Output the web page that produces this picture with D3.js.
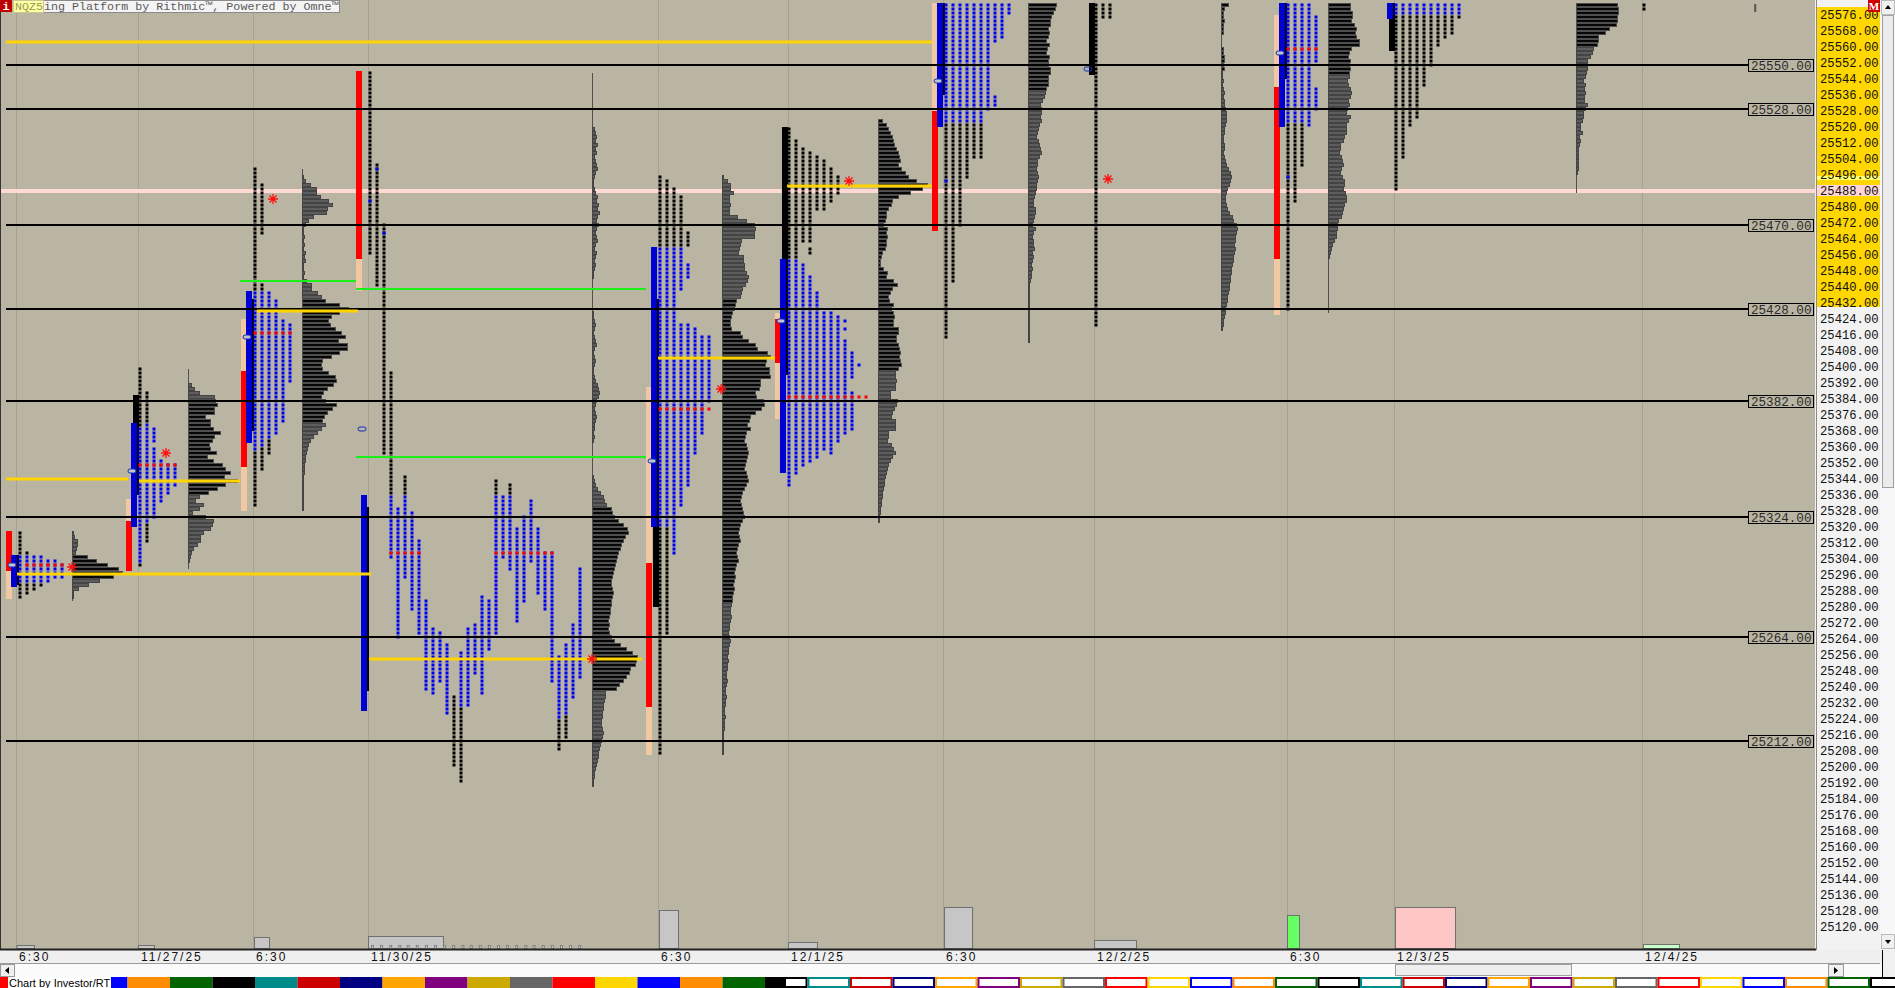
<!DOCTYPE html>
<html lang="en">
<head>
<meta charset="UTF-8">
<title>NQZ5 market profile</title>
<script src="https://cdn.jsdelivr.net/npm/d3@7"></script>
<style>
  body { margin: 0; background: #f0f0f0; }
  svg { display: block; }
</style>
</head>
<body>
<div id="chart"></div>
<script>
// ---------- data ----------
// horizontal reference levels (black lines with boxed labels)
const refLevels = [25550, 25528, 25470, 25428, 25382, 25324, 25264, 25212];
const pinkLevel = 25488;
const priceTicks = d3.range(25576, 25119, -8);

// time axis, x in 30-minute periods
const timeTicks = [2.29, 19.71, 36.14, 52.57, 94, 112.57, 134.71, 156.29, 183.86, 199.14, 234.57];
const timeLabels = ['6:30', '11/27/25', '6:30', '11/30/25', '6:30', '12/1/25', '6:30', '12/2/25', '6:30', '12/3/25', '12/4/25'];

// left edge of each session block (periods)
const sessStart = [0.86, 18, 34.43, 50.86, 92.29, 110.71, 133.14, 154.57, 182, 197.43, 232.86];

// range bars [session, high, low]
const peachBars = [[0, 25316, 25284], [1, 25332, 25298], [2, 25422, 25328], [3, 25546, 25438], [4, 25388, 25206], [5, 25425, 25374], [6, 25580, 25468], [8, 25574, 25426]];
const redBars = [[0, 25316, 25298], [1, 25321, 25298], [2, 25396, 25350], [3, 25546, 25454], [4, 25300, 25230], [5, 25422, 25402], [6, 25526, 25468], [8, 25538, 25454]];
const blueBars = [[0, 25304, 25290], [1, 25370, 25320], [2, 25436, 25362], [3, 25334, 25228], [4, 25458, 25320], [5, 25452, 25347], [6, 25580, 25520], [8, 25580, 25520], [9, 25580, 25574]];
const blackBars = [[0, 25304, 25291], [1, 25384, 25336], [2, 25432, 25368], [3, 25328, 25238], [4, 25432, 25280], [5, 25518, 25396], [6, 25580, 25536], [7, 25580, 25546], [8, 25580, 25544], [9, 25580, 25558]];
// open marks [session, price, filled]
const openMarks = [[0, 25300, 1], [1, 25347, 1], [2, 25414, 1], [3, 25368, 0], [4, 25352, 1], [5, 25422, 1], [6, 25542, 1], [7, 25548, 0], [8, 25556, 1]];

// TPO columns [column, high, low, kind]  b = day, k = overnight
const tpo1 = [[0, 25316, 25306, 'k'], [0, 25304, 25292, 'b'], [0, 25290, 25284, 'k'], [1, 25306, 25306, 'k'], [1, 25304, 25292, 'b'], [1, 25290, 25286, 'k'],
  [2, 25304, 25292, 'b'], [2, 25290, 25288, 'k'], [3, 25304, 25292, 'b'], [3, 25290, 25290, 'k'], [4, 25302, 25292, 'b'], [5, 25302, 25294, 'b'], [6, 25300, 25294, 'b']];
const tpo2 = [[0, 25398, 25370, 'k'], [0, 25368, 25302, 'b'], [0, 25300, 25300, 'k'], [1, 25386, 25372, 'k'], [1, 25370, 25322, 'b'], [1, 25320, 25312, 'k'],
  [2, 25368, 25362, 'b'], [2, 25358, 25324, 'b'], [3, 25352, 25332, 'b'], [4, 25350, 25336, 'b'], [5, 25350, 25340, 'b']];
const tpo3 = [[0, 25498, 25438, 'k'], [0, 25436, 25358, 'b'], [0, 25356, 25330, 'k'], [1, 25490, 25466, 'k'], [1, 25440, 25438, 'k'], [1, 25436, 25360, 'b'], [1, 25358, 25348, 'k'],
  [2, 25436, 25364, 'b'], [2, 25362, 25356, 'k'], [3, 25432, 25366, 'b'], [4, 25422, 25372, 'b'], [5, 25420, 25392, 'b']];
const tpo4 = [[0, 25546, 25456, 'k'], [0, 25482, 25482, 'b'], [1, 25500, 25440, 'k'], [1, 25498, 25498, 'b'], [2, 25470, 25356, 'k'], [2, 25466, 25466, 'b'],
  [3, 25396, 25336, 'k'], [3, 25334, 25304, 'b'], [4, 25328, 25264, 'b'], [5, 25344, 25336, 'k'], [5, 25334, 25294, 'b'], [6, 25326, 25278, 'b'],
  [7, 25312, 25266, 'b'], [8, 25282, 25238, 'b'], [9, 25268, 25236, 'b'], [10, 25266, 25242, 'b'], [11, 25260, 25226, 'b'], [12, 25234, 25200, 'k'],
  [13, 25256, 25230, 'b'], [13, 25228, 25192, 'k'], [14, 25268, 25230, 'b'], [15, 25270, 25246, 'b'], [16, 25284, 25236, 'b'], [17, 25282, 25258, 'b'],
  [18, 25342, 25336, 'k'], [18, 25334, 25266, 'b'], [19, 25334, 25304, 'b'], [20, 25340, 25336, 'k'], [20, 25334, 25298, 'b'], [21, 25318, 25272, 'b'],
  [22, 25324, 25282, 'b'], [23, 25332, 25302, 'b'], [24, 25318, 25286, 'b'], [25, 25306, 25278, 'b'], [26, 25306, 25242, 'b'],
  [27, 25254, 25224, 'b'], [27, 25222, 25208, 'k'], [28, 25260, 25226, 'b'], [28, 25224, 25214, 'k'], [29, 25270, 25234, 'b'], [30, 25298, 25244, 'b']];
const tpo5 = [[0, 25494, 25460, 'k'], [0, 25458, 25320, 'b'], [0, 25318, 25206, 'k'], [1, 25492, 25460, 'k'], [1, 25458, 25320, 'b'], [1, 25318, 25266, 'k'],
  [2, 25488, 25460, 'k'], [2, 25458, 25306, 'b'], [3, 25484, 25460, 'k'], [3, 25458, 25438, 'b'], [3, 25420, 25330, 'b'],
  [4, 25466, 25460, 'k'], [4, 25450, 25444, 'b'], [4, 25420, 25340, 'b'], [5, 25418, 25356, 'b'], [6, 25414, 25366, 'b'], [7, 25414, 25382, 'b']];
const tpo6 = [[0, 25518, 25454, 'k'], [0, 25452, 25340, 'b'], [1, 25512, 25454, 'k'], [1, 25452, 25346, 'b'], [2, 25508, 25462, 'k'], [2, 25450, 25350, 'b'],
  [3, 25506, 25462, 'k'], [3, 25458, 25456, 'k'], [3, 25444, 25352, 'b'], [4, 25504, 25478, 'k'], [4, 25436, 25354, 'b'], [5, 25502, 25478, 'k'], [5, 25426, 25358, 'b'],
  [6, 25498, 25482, 'k'], [6, 25426, 25356, 'b'], [7, 25494, 25486, 'k'], [7, 25424, 25362, 'b'], [8, 25422, 25422, 'b'], [8, 25418, 25418, 'b'], [8, 25412, 25366, 'b'],
  [9, 25406, 25394, 'b'], [9, 25386, 25368, 'b'], [10, 25400, 25400, 'b']];
const tpo7 = [[0, 25580, 25522, 'b'], [0, 25520, 25414, 'k'], [0, 25492, 25492, 'b'], [1, 25580, 25522, 'b'], [1, 25520, 25442, 'k'], [2, 25580, 25522, 'b'], [2, 25520, 25470, 'k'],
  [3, 25580, 25522, 'b'], [3, 25520, 25494, 'k'], [4, 25580, 25522, 'b'], [4, 25520, 25504, 'k'], [5, 25580, 25522, 'b'], [5, 25520, 25504, 'k'],
  [6, 25580, 25528, 'b'], [7, 25580, 25562, 'b'], [7, 25534, 25530, 'b'], [8, 25580, 25564, 'b'], [9, 25580, 25576, 'b']];
const tpo8 = [[0, 25580, 25420, 'k'], [1, 25580, 25574, 'k'], [2, 25580, 25574, 'k']];
const tpo9 = [[0, 25580, 25522, 'b'], [0, 25520, 25428, 'k'], [0, 25494, 25494, 'b'], [1, 25580, 25522, 'b'], [1, 25520, 25482, 'k'], [2, 25580, 25522, 'b'], [2, 25520, 25500, 'k'],
  [3, 25580, 25520, 'b'], [4, 25574, 25552, 'b'], [4, 25538, 25528, 'b']];
const tpo10 = [[0, 25580, 25576, 'b'], [0, 25574, 25488, 'k'], [1, 25580, 25576, 'b'], [1, 25574, 25504, 'k'], [2, 25580, 25576, 'b'], [2, 25574, 25520, 'k'],
  [3, 25580, 25576, 'b'], [3, 25574, 25524, 'k'], [4, 25580, 25576, 'b'], [4, 25574, 25540, 'k'], [5, 25580, 25576, 'b'], [5, 25574, 25550, 'k'],
  [6, 25580, 25576, 'b'], [6, 25574, 25560, 'k'], [7, 25580, 25576, 'b'], [7, 25574, 25564, 'k'], [8, 25580, 25576, 'b'], [8, 25574, 25566, 'k'],
  [9, 25580, 25576, 'b'], [9, 25574, 25574, 'k']];
const tpo11 = [[0, 25580, 25578, 'k']];
const tpoSessions = [0, 1, 2, 3, 4, 5, 6, 7, 8, 9, 10];

// TPO point-of-control rows [session, price, fromCol, toCol]
const redRows = [[0, 25300, 1, 6], [1, 25350, 0, 5], [2, 25416, 0, 5], [3, 25306, 3, 7], [3, 25306, 18, 26], [4, 25378, 0, 7], [5, 25384, 0, 11], [8, 25558, 0, 4]];

// volume profiles: axis position, top price, value area, extent
const vpAxis = [10.29, 26.86, 43.14, 84.57, 103.14, 125.43, 146.86, 174.43, 189.71, 225.14];
const vpTop = [25316, 25390, 25494, 25518, 25494, 25522, 25580, 25580, 25580, 25580];
const vpVA = [[25304, 25294], [25382, 25336], [25432, 25372], [25328, 25238], [25432, 25282], [25522, 25398], [25580, 25538], [25580, 25548], [25580, 25546], [25580, 25560]];
const vpSpan = [[25316, 25282], [25398, 25298], [25498, 25328], [25546, 25190], [25494, 25206], [25522, 25322], [25580, 25412], [25580, 25418], [25580, 25426], [25580, 25486]];
// volume per 2-point row, from the top price down
const vp1 = [1, 2, 5, 5, 4, 3, 15, 24, 35, 46, 50, 41, 27, 16, 6, 1, 1];
const vp2 = [3, 6, 11, 26, 27, 29, 26, 26, 17, 22, 22, 25, 32, 26, 24, 21, 22, 28, 19, 25, 34, 37, 42, 36, 49, 37, 29, 20, 11, 7, 15, 11, 4, 17, 25, 24, 22, 15, 12, 12, 9, 5, 3, 2, 1];
const vp3 = [1, 3, 8, 14, 14, 18, 26, 30, 25, 24, 11, 6, 3, 1, 1, 2,
  1, 2, 1, 3, 2, 3, 1, 1, 2, 1,
  4, 9, 9, 15, 19,
  23, 37, 46, 37, 29, 26, 28, 33, 39, 43, 36, 45, 45, 37, 29, 20, 19, 20, 26, 33, 34, 31, 25, 21, 19, 23, 34, 30, 25, 22, 20,
  23, 19, 15, 11, 8, 6, 5, 4, 3, 3, 2, 2, 2, 1, 1, 1, 1, 1, 1, 1, 1, 1];
const vp4 = [2, 3, 4, 3, 5, 3, 4, 2, 3, 4, 5, 3, 2, 1, 1,
  2, 3, 5, 4, 6, 5, 7, 5, 4, 6, 4, 3, 4, 5, 3, 2, 4, 3, 2, 3, 2, 1, 1,
  0, 0, 0, 0, 0, 0, 0, 0, 1, 1,
  2, 3, 2, 1, 2, 3, 4, 2, 1, 2, 3, 2, 1, 1, 2, 3, 5, 6, 7, 6, 4, 3, 2, 3, 4, 3, 2, 2, 1, 2, 1,
  0, 0, 0, 0, 0, 0, 0, 0, 1, 2, 3, 5, 8, 11, 12, 14,
  19, 20, 22, 26, 31, 35, 36, 33, 31, 29, 28, 26, 25, 24, 23, 22, 21, 20, 19, 19, 20, 21, 20, 19, 19, 18, 18, 17, 16, 17, 16, 17, 19, 22, 28, 34, 40, 45, 44, 43, 38, 37, 34, 31, 27, 24,
  13, 13, 12, 11, 11, 10, 10, 9, 9, 10, 11, 10, 9, 8, 7, 6, 6, 5, 4, 3, 2, 2, 1, 1];
const vp5 = [1, 5, 8, 8, 11, 7, 7, 8, 7, 7, 15, 24, 32, 33, 32, 32, 19, 18, 17, 16, 21, 21, 22, 22, 24, 26, 25, 23, 20, 19, 18,
  14, 13, 12, 10, 9, 8, 8, 9, 18, 20, 26, 33, 35, 45, 48, 44, 43, 47, 47, 48, 38, 38, 37, 33, 34, 41, 42, 39, 33, 28, 27, 25, 28, 24, 23, 22, 24, 25, 26, 25,
  24, 23, 22, 24, 25, 26, 24, 22, 20, 19, 18, 19, 20, 21, 22, 20, 18, 17, 16, 17, 18, 16, 15, 14, 15, 16, 14, 13, 12, 13, 12, 11, 12, 11, 10, 10,
  9, 8, 8, 9, 8, 7, 7, 6, 7, 8, 7, 6, 6, 5, 6, 5, 5, 4, 4, 5, 4, 3, 3, 4, 3, 3, 2, 2, 3, 2, 2, 2, 1, 1, 1, 1, 1, 1];
const vp6 = [4, 8, 10, 12, 14, 15, 16, 18, 20, 21,
  22, 20, 23, 27, 30, 38, 49, 44, 32, 20, 14, 13, 10, 8, 8,
  7, 5, 9, 8, 9, 8, 8, 7, 4, 3, 2, 2,
  5, 9, 8, 15, 19, 14, 12, 10, 11, 15, 13, 15, 16, 15, 15, 20, 20, 18, 18, 20, 21, 22, 21, 22, 23, 20,
  17, 17, 18, 17, 17, 12, 12, 19, 18, 16, 14, 13, 17, 17, 17, 10, 10, 9, 13, 15, 17, 14,
  12, 10, 9, 8, 7, 6, 6, 5, 4, 4, 3, 3, 2, 2, 1, 1];
const vp7 = [28, 27, 25, 23, 22, 22, 20, 21, 20, 18, 21, 19, 18, 21, 20, 20, 22, 22, 20, 20, 20, 18,
  17, 16, 14, 12, 13, 13, 12, 13, 11, 10, 9, 8, 10, 11, 12, 13, 11, 9, 9, 8, 9, 10, 9, 8, 8, 7, 6, 5, 5, 7, 7, 6, 5, 4, 7, 5, 4, 5, 5, 6, 4, 5, 4, 3, 4, 3, 3, 2,
  1, 1, 1, 1, 1, 1, 1, 1, 1, 1, 1, 1, 1, 1, 1];
const vp8 = [7, 3, 2, 2, 3, 2, 2, 2, 0, 0, 0, 2, 2, 3, 3, 2, 3,
  1, 1, 2, 1, 2, 3, 2, 3, 3,
  4, 5, 5, 5, 4, 3, 3, 2,
  2, 3, 3, 2, 3, 4, 5, 7, 9, 10,
  9, 8, 6, 5, 4, 4, 5, 6, 8,
  11, 12, 15, 16, 15, 14, 14, 13, 14, 13, 12, 12, 11, 10,
  10, 9, 9, 8, 8, 7, 6, 6, 5, 4, 4, 3, 2, 2, 1];
const vp9 = [22, 22, 24, 24, 23, 26, 28, 27, 28, 31, 31, 23, 21, 20, 22, 21, 22, 21,
  21, 19, 20, 22, 23, 22, 20, 21, 19, 18, 22, 20, 18, 18, 18, 16, 15, 12, 12, 11, 13, 14, 15, 13, 12, 14, 16, 16, 15, 17, 18, 18, 16, 15, 14, 13, 10, 9, 9, 8, 8, 6, 4, 3, 2, 1];
const vp10 = [41, 42, 42, 41, 41, 40, 33, 29, 22, 22, 21,
  17, 16, 14, 11, 11, 11, 10, 9, 7, 9, 8, 9, 8, 8, 11, 9, 7, 7, 6, 4, 4, 6, 3, 4, 3, 2, 2, 2, 2, 2, 2, 1];

// naked POC lines [price, from, to] and green reference lines
const pocLines = [[25561.5, 0.86, 133.14], [25343, 0.86, 18.29], [25295.5, 2.43, 53], [25342, 19.86, 34.29], [25427, 36.71, 51.14], [25253, 52.71, 91.71], [25403.5, 94, 110.71], [25489.5, 112.43, 133.14]];
const greenLines = [[25442, 34.29, 50.86], [25438, 50.86, 92.29], [25354, 50.86, 92.29]];
const stars = [[10.29, 25299], [23.71, 25356], [39, 25483], [84.57, 25253], [103, 25388], [121.29, 25492], [158.29, 25493]];

// bottom volume bars [from, to, volume, colour]
const volBars = [[2.36, 4.86, 3, 'g'], [19.71, 22, 3, 'g'], [36.29, 38.43, 11, 'g'], [52.57, 63.29, 12, 'g'], [94.14, 96.86, 38, 'g'], [112.57, 116.71, 6, 'g'],
  [134.86, 138.86, 41, 'g'], [156.29, 162.29, 8, 'g'], [183.86, 185.57, 33, 'G'], [199.29, 207.86, 41, 'p'], [234.71, 239.86, 4, 'l']];
const smallVol = [53.0, 54.3, 55.6, 56.9, 58.1, 59.4, 60.7, 62.0, 63.3, 64.6, 65.9, 67.1, 68.4, 69.7, 71.0, 72.3, 73.6, 74.9, 76.1, 77.4, 78.7, 80.0, 81.3, 82.6];
const stripColors = ['#ff0000', '#ffd700', '#0000ff', '#ff8c00', '#006400', '#000000', '#008b8b', '#cc0000', '#000080', '#ffa500', '#800080', '#ccaa00', '#666666'];

// ---------- scales ----------
const xs = d3.scaleLinear().domain([0, 260]).range([0, 1820]);
const ys = d3.scaleLinear().domain([25550, 25212]).range([65, 741]);
const vw = d3.scaleLinear().domain([0, 50]).range([0, 50]);
const vh = d3.scaleLinear().domain([0, 50]).range([948, 898]);

const svg = d3.select('#chart').append('svg')
  .attr('width', 1895).attr('height', 988)
  .style('background', '#f0f0f0');

svg.append('defs').append('clipPath').attr('id', 'pc')
  .append('rect').attr('width', 1815).attr('height', 949);

const plot = svg.append('g').attr('clip-path', 'url(#pc)');
plot.append('rect').attr('width', 1816).attr('height', 950).attr('fill', '#bab5a3');

// grid
plot.selectAll('.grid').data(timeTicks).enter().append('line')
  .attr('x1', d => Math.round(xs(d)) + 0.5).attr('x2', d => Math.round(xs(d)) + 0.5)
  .attr('y1', 0).attr('y2', 950).attr('stroke', '#a6a190').attr('stroke-width', 1);

// pink level
plot.append('rect').attr('x', 0).attr('width', 1815)
  .attr('y', ys(pinkLevel)).attr('height', 4).attr('fill', '#ffd9d3');

// range bars
function rangeBars(data, dx, w, color) {
  plot.selectAll(null).data(data).enter().append('rect')
    .attr('x', d => xs(sessStart[d[0]]) + dx).attr('width', w)
    .attr('y', d => ys(d[1]) - 2).attr('height', d => ys(d[2]) - ys(d[1]) + 4)
    .attr('fill', color);
}
rangeBars(peachBars, 0, 6, '#f0c8a2');
rangeBars(redBars, 0, 6, '#ff0000');
rangeBars(blackBars, 7, 6, '#000000');
rangeBars(blueBars, 5, 6, '#0000d0');

// volume profiles
const vpData = [vp1, vp2, vp3, vp4, vp5, vp6, vp7, vp8, vp9, vp10];
vpData.forEach((vals, i) => {
  const ax = Math.round(xs(vpAxis[i]));
  const g = plot.append('g');
  g.append('line').attr('x1', ax + 0.5).attr('x2', ax + 0.5)
    .attr('y1', ys(vpSpan[i][0])).attr('y2', ys(vpSpan[i][1]))
    .attr('stroke', '#505050');
  g.selectAll('rect').data(vals.map((v, j) => [vpTop[i] - 2 * j, v]).filter(d => d[1] > 0))
    .enter().append('rect')
    .attr('x', ax + 0.5).attr('y', d => ys(d[0]) - 1.5)
    .attr('width', d => vw(d[1])).attr('height', 3)
    .attr('fill', d => (d[0] <= vpVA[i][0] && d[0] >= vpVA[i][1]) ? '#060606' : '#5d5d5d')
    .attr('stroke', d => (d[0] <= vpVA[i][0] && d[0] >= vpVA[i][1]) ? '#4e4e4e' : '#444')
    .attr('stroke-width', 1);
});

// TPO squares
const tpoData = [tpo1, tpo2, tpo3, tpo4, tpo5, tpo6, tpo7, tpo8, tpo9, tpo10, tpo11];
const squares = [];
tpoData.forEach((segs, i) => {
  const x0 = sessStart[tpoSessions[i]] + 2;
  segs.forEach(([c, hi, lo, k]) => {
    for (let p = hi; p >= lo; p -= 2) squares.push([x0 + c, p, k === 'b' ? '#0000f0' : '#000']);
  });
});
redRows.forEach(([s, p, a, b]) => {
  for (let c = a; c <= b; c++) squares.push([sessStart[s] + 2 + c, p, '#ff0000']);
});
plot.append('g').selectAll('rect').data(squares).enter().append('rect')
  .attr('x', d => Math.round(xs(d[0])) - 1.5).attr('y', d => ys(d[1]) - 1.5)
  .attr('width', 3).attr('height', 3).attr('fill', d => d[2]);

// reference lines
plot.selectAll('.ref').data(refLevels).enter().append('line')
  .attr('x1', 6).attr('x2', 1750).attr('y1', d => ys(d)).attr('y2', d => ys(d))
  .attr('stroke', '#000').attr('stroke-width', 2);

// green and poc lines
plot.selectAll('.grn').data(greenLines).enter().append('line')
  .attr('x1', d => xs(d[1])).attr('x2', d => xs(d[2]))
  .attr('y1', d => ys(d[0])).attr('y2', d => ys(d[0]))
  .attr('stroke', '#1aef1a').attr('stroke-width', 2);
plot.selectAll('.poc').data(pocLines).enter().append('line')
  .attr('x1', d => xs(d[1])).attr('x2', d => xs(d[2]))
  .attr('y1', d => ys(d[0])).attr('y2', d => ys(d[0]))
  .attr('stroke', '#ffd400').attr('stroke-width', 3);

// open marks
plot.selectAll('.om').data(openMarks).enter().append('rect')
  .attr('x', d => xs(sessStart[d[0]]) + 2).attr('y', d => ys(d[1]) - 2)
  .attr('width', 8).attr('height', 4).attr('rx', 2)
  .attr('fill', d => d[2] ? '#c4c4c4' : 'none').attr('stroke', '#1030c0').attr('stroke-width', 1);

// asterisks
plot.selectAll('.star').data(stars).enter().append('path')
  .attr('transform', d => `translate(${xs(d[0])},${ys(d[1])})`)
  .attr('d', 'M-5,0H5M0,-5V5M-3.5,-3.5L3.5,3.5M-3.5,3.5L3.5,-3.5')
  .attr('stroke', '#ff1010').attr('stroke-width', 1.3).attr('fill', 'none');

// small marks at top right
plot.append('rect').attr('x', xs(250.6)).attr('y', 4).attr('width', 2).attr('height', 8).attr('fill', '#555');

// bottom volume bars
const volFill = { g: '#c6c6c6', G: '#66ff66', p: '#ffc6c6', l: '#c8ffc8' };
plot.selectAll('.vb').data(volBars).enter().append('rect')
  .attr('x', d => xs(d[0]) + 0.5).attr('width', d => xs(d[1]) - xs(d[0]))
  .attr('y', d => vh(d[2]) + 0.5).attr('height', d => 948 - vh(d[2]))
  .attr('fill', d => volFill[d[3]]).attr('stroke', '#707070');
plot.selectAll('.sv').data(smallVol).enter().append('rect')
  .attr('x', d => xs(d) + 0.5).attr('width', 2).attr('y', vh(3) + 0.5).attr('height', 948 - vh(3))
  .attr('fill', '#d0d0d0').attr('stroke', '#808080');

// level labels
const lab = svg.append('g');
lab.selectAll('rect').data(refLevels).enter().append('rect')
  .attr('x', 1748.5).attr('y', d => ys(d) - 5.5).attr('width', 65).attr('height', 12)
  .attr('fill', '#bab5a3').attr('stroke', '#000');
lab.selectAll('text').data(refLevels).enter().append('text')
  .attr('x', 1751).attr('y', d => ys(d) + 4.5)
  .attr('font-family', 'Liberation Mono, monospace').attr('font-size', 12.6)
  .attr('fill', '#2b2b2b').text(d => d.toFixed(2));

// left border
svg.append('line').attr('x1', 0.5).attr('x2', 0.5).attr('y1', 0).attr('y2', 950).attr('stroke', '#333');

// right price axis
const ax = svg.append('g');
ax.append('rect').attr('x', 1816).attr('y', 0).attr('width', 64).attr('height', 950).attr('fill', '#f2f2f2');
ax.append('rect').attr('x', 1817).attr('y', 7).attr('width', 63).attr('height', 300).attr('fill', '#ffd700');
ax.append('rect').attr('x', 1817).attr('y', 176).attr('width', 63).attr('height', 4).attr('fill', '#ffff70');
ax.append('rect').attr('x', 1817).attr('y', 185).attr('width', 63).attr('height', 11).attr('fill', '#ffd6d6');
ax.append('line').attr('x1', 1816.5).attr('x2', 1816.5).attr('y1', 0).attr('y2', 950).attr('stroke', '#8a8a8a');
const yAxis = d3.axisRight(ys).tickValues(priceTicks).tickSize(0).tickPadding(4).tickFormat(d => d.toFixed(2));
const ya = ax.append('g').attr('transform', 'translate(1816,2)').call(yAxis);
ya.select('.domain').remove();
ya.selectAll('text').attr('font-family', 'Liberation Mono, monospace').attr('font-size', 12.2).attr('fill', '#111');
ax.append('rect').attr('x', 1868).attr('y', 0).attr('width', 12).attr('height', 12).attr('fill', '#d00000');
ax.append('text').attr('x', 1874).attr('y', 10).attr('text-anchor', 'middle').attr('font-family', 'Liberation Serif, serif')
  .attr('font-weight', 'bold').attr('font-size', 11).attr('fill', '#fff').text('M');

// right scrollbar
ax.append('rect').attr('x', 1880).attr('y', 0).attr('width', 15).attr('height', 950).attr('fill', '#f7f7f7');
ax.append('rect').attr('x', 1882.5).attr('y', 15.5).attr('width', 11).attr('height', 472).attr('fill', '#ececec').attr('stroke', '#a0a0a0');
ax.append('rect').attr('x', 1881.5).attr('y', 0.5).attr('width', 13).attr('height', 14).attr('fill', '#f0f0f0').attr('stroke', '#bbb');
ax.append('path').attr('d', 'M1885,9L1888,5L1891,9Z').attr('fill', '#000');
ax.append('rect').attr('x', 1881.5).attr('y', 934.5).attr('width', 13).attr('height', 14).attr('fill', '#f0f0f0').attr('stroke', '#bbb');
ax.append('path').attr('d', 'M1885,940L1888,944L1891,940Z').attr('fill', '#000');

// header
const hd = svg.append('g').attr('font-family', 'Liberation Mono, monospace').attr('font-size', 11.7);
hd.append('rect').attr('x', 0).attr('y', 0).attr('width', 12).attr('height', 12).attr('fill', '#c00000');
hd.append('text').attr('x', 6).attr('y', 10).attr('text-anchor', 'middle').attr('fill', '#fff').attr('font-weight', 'bold').text('i');
hd.append('rect').attr('x', 43.5).attr('y', 0.5).attr('width', 296).attr('height', 12).attr('fill', '#f4f4f4').attr('stroke', '#8a8a8a');
hd.append('rect').attr('x', 13.5).attr('y', 0.5).attr('width', 30).attr('height', 12).attr('fill', '#ffffa8').attr('stroke', '#c8c890');
hd.append('text').attr('x', 15).attr('y', 10).attr('fill', '#9a9a50').text('NQZ5');
hd.append('text').attr('x', 44).attr('y', 10).attr('fill', '#5a5a5a').text('ing Platform by Rithmic\u2122, Powered by Omne\u2122');

// bottom: time axis
const bt = svg.append('g');
bt.append('rect').attr('x', 0).attr('y', 950).attr('width', 1880).attr('height', 13).attr('fill', '#efefef');
bt.append('line').attr('x1', 0).attr('x2', 1816).attr('y1', 949.5).attr('y2', 949.5).attr('stroke', '#222').attr('stroke-width', 2);
bt.append('line').attr('x1', 0).attr('x2', 1880).attr('y1', 963.5).attr('y2', 963.5).attr('stroke', '#9a9a9a');
bt.selectAll('text').data(timeTicks).enter().append('text')
  .attr('x', d => xs(d) + 3).attr('y', 961)
  .attr('font-family', 'Liberation Sans, Arial, sans-serif').attr('font-size', 12)
  .attr('letter-spacing', 2).attr('fill', '#111')
  .text((d, i) => timeLabels[i]);

// scroll row
bt.append('rect').attr('x', 0).attr('y', 964).attr('width', 1882).attr('height', 13).attr('fill', '#fbfbfb');
bt.append('rect').attr('x', 0.5).attr('y', 964.5).attr('width', 14).attr('height', 12).attr('fill', '#f0f0f0').attr('stroke', '#999');
bt.append('path').attr('d', 'M9,967L5,970.5L9,974Z').attr('fill', '#000');
bt.append('rect').attr('x', 1395.5).attr('y', 964.5).attr('width', 176).attr('height', 11).attr('fill', '#efefef').attr('stroke', '#a0a0a0');
bt.append('rect').attr('x', 1828.5).attr('y', 964.5).attr('width', 15).attr('height', 12).attr('fill', '#f0f0f0').attr('stroke', '#999');
bt.append('path').attr('d', 'M1834,967L1838,970.5L1834,974Z').attr('fill', '#000');
bt.append('line').attr('x1', 1882.5).attr('x2', 1882.5).attr('y1', 950).attr('y2', 977).attr('stroke', '#000');

// colour strip
const cw = 42.5;
const cells = d3.range(45);
bt.selectAll('.cell').data(cells).enter().append('rect')
  .attr('x', d => d * cw + (d < 18 ? 0 : 1)).attr('y', d => d < 18 ? 977 : 978)
  .attr('width', d => d < 18 ? cw : cw - 2).attr('height', d => d < 18 ? 11 : 9)
  .attr('fill', d => d < 18 ? stripColors[d % 13] : '#fff')
  .attr('stroke', d => d < 18 ? 'none' : stripColors[d % 13]).attr('stroke-width', 2);
bt.append('rect').attr('x', 18 * cw).attr('y', 977).attr('width', 21).attr('height', 11).attr('fill', '#000');
bt.append('rect').attr('x', 8).attr('y', 977).attr('width', 103).attr('height', 11).attr('fill', '#fff');
bt.append('text').attr('x', 9).attr('y', 987).attr('font-family', 'Liberation Sans, Arial, sans-serif')
  .attr('font-size', 11).attr('fill', '#000').text('Chart by Investor/RT');
</script>
</body>
</html>
